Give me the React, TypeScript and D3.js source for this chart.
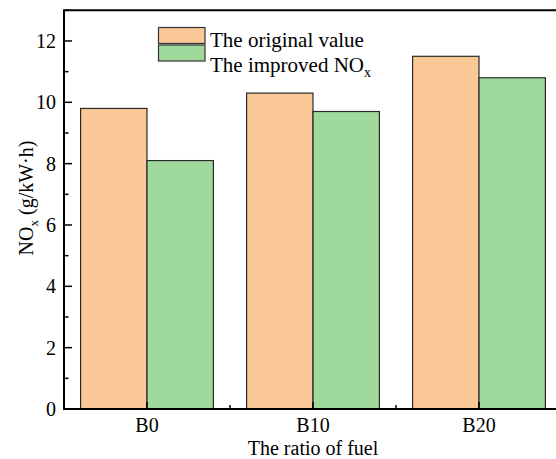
import React from "react";
import * as d3 from "d3";

const categories = ["B0", "B10", "B20"];
const seriesNames = ["original", "improved"];
const originalValues = [9.8, 10.3, 11.5];
const improvedValues = [8.1, 9.7, 10.8];
const yTicks = [0, 2, 4, 6, 8, 10, 12];
const yMinorTicks = [1, 3, 5, 7, 9, 11, 13];

const W = 556;
const H = 459;
const FONT = "'Liberation Serif', 'Times New Roman', serif";
const colors = ["#FAC897", "#9FDA9C"];

export default function App() {
  const left = 64;
  const right = 562;
  const top = 10.3;
  const bottom = 409;

  const x = d3.scaleBand<string>().domain(categories).range([left, right]).paddingInner(0.2).paddingOuter(0.1);
  const xs = d3.scaleBand<string>().domain(seriesNames).range([0, x.bandwidth()]);
  const y = d3.scaleLinear().domain([0, 13]).range([bottom, top]);

  const series = [originalValues, improvedValues];
  const step = x.step();

  return (
    <svg width={W} height={H} style={{ position: "absolute", left: 0, top: 0, display: "block", background: "#fff" }}>
      {/* bars */}
      {categories.map((c, i) =>
        seriesNames.map((s, j) => {
          const v = series[j][i];
          const bx = (x(c) as number) + (xs(s) as number);
          return (
            <rect
              key={c + s}
              x={bx}
              y={y(v)}
              width={xs.bandwidth()}
              height={y(0) - y(v)}
              fill={colors[j]}
              stroke="#2a2a2a"
              strokeWidth={1.2}
            />
          );
        })
      )}

      {/* frame */}
      <line x1={left} x2={left} y1={top} y2={bottom + 1} stroke="#000" strokeWidth={2} />
      <line x1={left - 1} x2={right} y1={bottom} y2={bottom} stroke="#000" strokeWidth={2} />
      <line x1={left - 1} x2={right} y1={top} y2={top} stroke="#000" strokeWidth={2} />
      <line x1={right} x2={right} y1={top} y2={bottom} stroke="#000" strokeWidth={2} />

      {/* y ticks */}
      {yTicks.map((t) => (
        <g key={"yt" + t}>
          <line x1={left} x2={left + 8} y1={y(t)} y2={y(t)} stroke="#000" strokeWidth={1.5} />
          <text x={left - 8} y={y(t)} dy="0.35em" textAnchor="end" fontFamily={FONT} fontSize={20} fill="#000">
            {t}
          </text>
        </g>
      ))}
      {yMinorTicks.map((t) => (
        <line key={"ym" + t} x1={left} x2={left + 4.5} y1={y(t)} y2={y(t)} stroke="#000" strokeWidth={1.5} />
      ))}

      {/* x ticks */}
      {categories.map((c) => {
        const cx = (x(c) as number) + x.bandwidth() / 2;
        return (
          <g key={"xt" + c}>
            <line x1={cx} x2={cx} y1={bottom} y2={bottom - 7} stroke="#000" strokeWidth={1.5} />
            <text x={cx} y={432} textAnchor="middle" fontFamily={FONT} fontSize={20} fill="#000">
              {c}
            </text>
          </g>
        );
      })}
      {categories.slice(1).map((c) => {
        const mx = (x(c) as number) + x.bandwidth() / 2 - step / 2;
        return <line key={"xm" + c} x1={mx} x2={mx} y1={bottom} y2={bottom - 4} stroke="#000" strokeWidth={1.5} />;
      })}

      {/* axis titles */}
      <text x={(left + right) / 2} y={454.5} textAnchor="middle" fontFamily={FONT} fontSize={20} fill="#000">
        The ratio of fuel
      </text>
      <text
        transform="translate(33, 198) rotate(-90)"
        textAnchor="middle"
        fontFamily={FONT}
        fontSize={20}
        fill="#000"
      >
        NO
        <tspan fontSize={13} dy={5}>x</tspan>
        <tspan dy={-5}> (g/kW·h)</tspan>
      </text>

      {/* legend */}
      <g fontFamily={FONT} fontSize={21} fill="#000">
        <rect x={158.5} y={27.5} width={46.5} height={16} fill={colors[0]} stroke="#333" strokeWidth={1.2} />
        <text x={210} y={46.5}>The original value</text>
        <rect x={158.5} y={45} width={46.5} height={16} fill={colors[1]} stroke="#333" strokeWidth={1.2} />
        <text x={210} y={71.5}>
          The improved NO
          <tspan fontSize={14} dy={5}>x</tspan>
        </text>
      </g>
    </svg>
  );
}
